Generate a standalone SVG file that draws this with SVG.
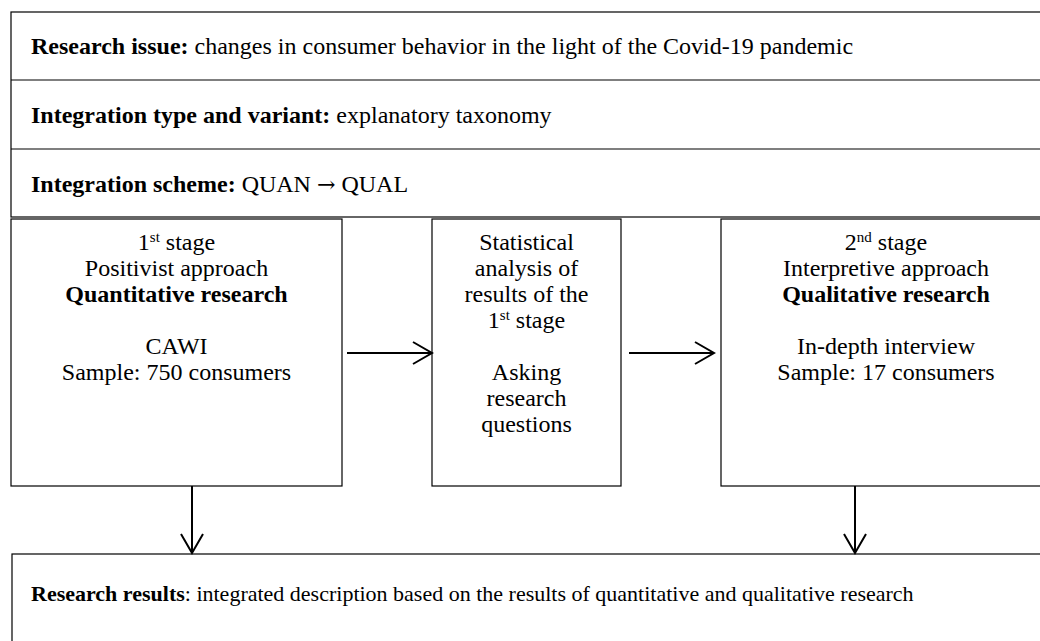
<svg xmlns="http://www.w3.org/2000/svg" width="1040" height="641" viewBox="0 0 1040 641">
  <style>
    .box { fill: #ffffff; stroke: #000000; stroke-width: 1.2; }
    .rule { stroke: #000000; stroke-width: 1.2; }
    .t { font-family: "Liberation Serif", "Times New Roman", serif; font-size: 24px; fill: #000000; }
    .c { text-anchor: middle; }
    .b { font-weight: bold; }
    .sup { font-size: 15px; }
    .arr { font-family: "DejaVu Serif", serif; font-size: 22px; }
    .conn { stroke: #000000; stroke-width: 2; fill: none; }
  </style>
  <defs>
    <marker id="open-arrow" viewBox="0 0 22 24" refX="20" refY="12" markerWidth="22" markerHeight="24" markerUnits="userSpaceOnUse" orient="auto">
      <path d="M1,1 L20,12 L1,23" fill="none" stroke="#000000" stroke-width="2"/>
    </marker>
  </defs>
  <rect width="1040" height="641" fill="#ffffff"/>

  <!-- header table: issue, integration type, scheme -->
  <g id="header">
    <rect class="box" x="11" y="12" width="1040" height="205"/>
    <line class="rule" x1="11" y1="80" x2="1040" y2="80"/>
    <line class="rule" x1="11" y1="149" x2="1040" y2="149"/>
    <text class="t" x="31" y="54"><tspan class="b">Research issue:</tspan> changes in consumer behavior in the light of the Covid-19 pandemic</text>
    <text class="t" x="31" y="123"><tspan class="b">Integration type and variant:</tspan> explanatory taxonomy</text>
    <text class="t" x="31" y="192"><tspan class="b">Integration scheme:</tspan> QUAN <tspan class="arr">→</tspan> QUAL</text>
  </g>

  <!-- stage 1 -->
  <g id="stage1">
    <rect class="box" x="11" y="219" width="331" height="267"/>
    <text class="t c" x="176.5" y="250">1<tspan class="sup" dy="-8">st</tspan><tspan dy="8"> stage</tspan></text>
    <text class="t c" x="176.5" y="276">Positivist approach</text>
    <text class="t c b" x="176.5" y="302">Quantitative research</text>
    <text class="t c" x="176.5" y="354">CAWI</text>
    <text class="t c" x="176.5" y="380">Sample: 750 consumers</text>
  </g>

  <!-- analysis between stages -->
  <g id="analysis">
    <rect class="box" x="432" y="219" width="189" height="267"/>
    <text class="t c" x="526.5" y="250">Statistical</text>
    <text class="t c" x="526.5" y="276">analysis of</text>
    <text class="t c" x="526.5" y="302">results of the</text>
    <text class="t c" x="526.5" y="328">1<tspan class="sup" dy="-8">st</tspan><tspan dy="8"> stage</tspan></text>
    <text class="t c" x="526.5" y="380">Asking</text>
    <text class="t c" x="526.5" y="406">research</text>
    <text class="t c" x="526.5" y="432">questions</text>
  </g>

  <!-- stage 2 -->
  <g id="stage2">
    <rect class="box" x="721" y="219" width="330" height="267"/>
    <text class="t c" x="886" y="250">2<tspan class="sup" dy="-8">nd</tspan><tspan dy="8"> stage</tspan></text>
    <text class="t c" x="886" y="276">Interpretive approach</text>
    <text class="t c b" x="886" y="302">Qualitative research</text>
    <text class="t c" x="886" y="354">In-depth interview</text>
    <text class="t c" x="886" y="380">Sample: 17 consumers</text>
  </g>

  <!-- results -->
  <g id="results">
    <rect class="box" x="12" y="554" width="1040" height="100"/>
    <text class="t" x="31" y="601" style="font-size:22px"><tspan class="b">Research results</tspan>: integrated description based on the results of quantitative and qualitative research</text>
  </g>

  <!-- connectors -->
  <g id="connectors">
    <line class="conn" x1="347" y1="353" x2="432" y2="353" marker-end="url(#open-arrow)"/>
    <line class="conn" x1="629" y1="353" x2="714" y2="353" marker-end="url(#open-arrow)"/>
    <line class="conn" x1="192" y1="486" x2="192" y2="553" marker-end="url(#open-arrow)"/>
    <line class="conn" x1="855" y1="486" x2="855" y2="553" marker-end="url(#open-arrow)"/>
  </g>
</svg>
